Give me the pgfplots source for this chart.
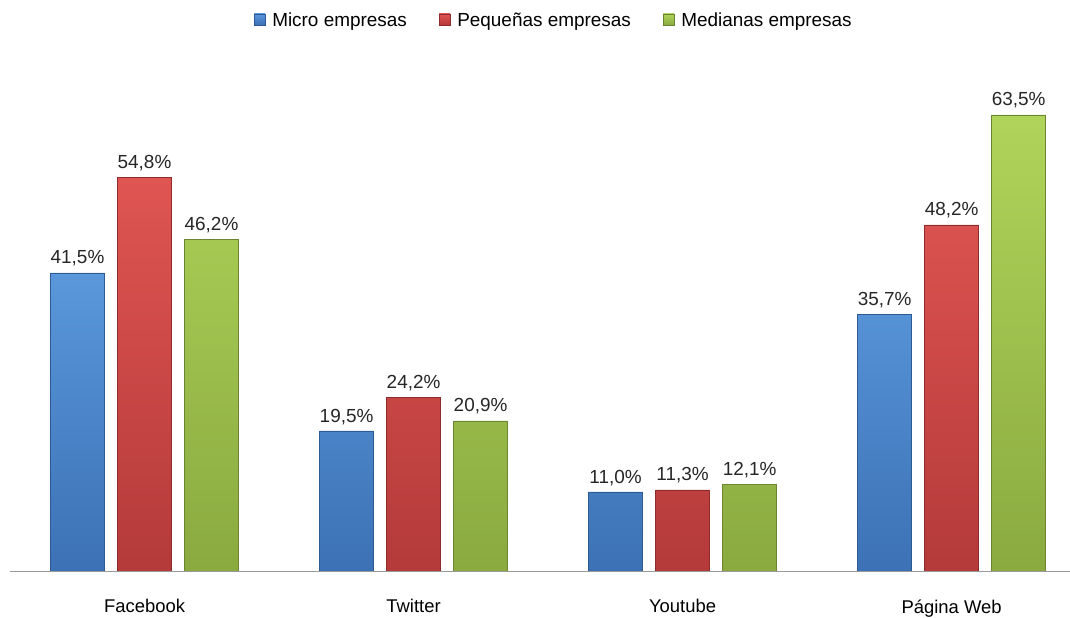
\documentclass[border=0pt]{standalone}
\usepackage{pgfplots}
\pgfplotsset{compat=1.18}
\usepackage{fontspec}
\setmainfont{Liberation Sans}

\definecolor{bluetop}{HTML}{5A97DB}
\definecolor{bluebot}{HTML}{3C71B5}
\definecolor{blueedge}{HTML}{2E5A92}
\definecolor{redtop}{HTML}{DF5552}
\definecolor{redbot}{HTML}{B43A3A}
\definecolor{rededge}{HTML}{8E2C2C}
\definecolor{greentop}{HTML}{B0D45A}
\definecolor{greenbot}{HTML}{8AAA40}
\definecolor{greenedge}{HTML}{6A8430}

\begin{document}
\begin{tikzpicture}
\useasboundingbox (0,0) rectangle (1070bp,618bp);
\begin{axis}[
    at={(10bp,47bp)}, anchor=south west,
    scale only axis,
    width=1060bp, height=571bp,
    ymin=0, ymax=79.5,
    xmin=-0.5, xmax=3.44,
    ybar=13bp, bar width=54bp,
    axis y line=none,
    axis x line=bottom,
    x axis line style={-, draw=gray!80},
    xtick=data,
    xticklabels={Facebook, Twitter, Youtube, Página Web},
    major tick length=0pt,
    xticklabel style={yshift=-25bp, font=\fontsize{18.5}{22}\selectfont},
    /pgf/number format/assume math mode=true,
    nodes near coords={\pgfmathprintnumber[fixed, fixed zerofill, precision=1, use comma]{\pgfplotspointmeta}\%},
    every node near coord/.append style={font=\fontsize{19}{22}\selectfont, color=black!85, yshift=3bp},
    legend columns=3,
    legend style={draw=none, at={(0.513,0.965)}, anchor=center,
        font=\fontsize{19}{22}\selectfont,
        /tikz/every even column/.append style={column sep=30bp}},
    legend image code/.code={\draw[#1] (0bp,-5bp) rectangle (11bp,6bp); \path (16bp,0bp);},
    legend cell align=left,
]
\addplot[draw=blueedge, top color=bluetop, bottom color=bluebot]
    coordinates {(0,41.5) (1,19.5) (2,11.0) (3,35.7)};
\addplot[draw=rededge, top color=redtop, bottom color=redbot]
    coordinates {(0,54.8) (1,24.2) (2,11.3) (3,48.2)};
\addplot[draw=greenedge, top color=greentop, bottom color=greenbot]
    coordinates {(0,46.2) (1,20.9) (2,12.1) (3,63.5)};
\legend{Micro empresas, Pequeñas empresas, Medianas empresas}
\end{axis}
\end{tikzpicture}
\end{document}
